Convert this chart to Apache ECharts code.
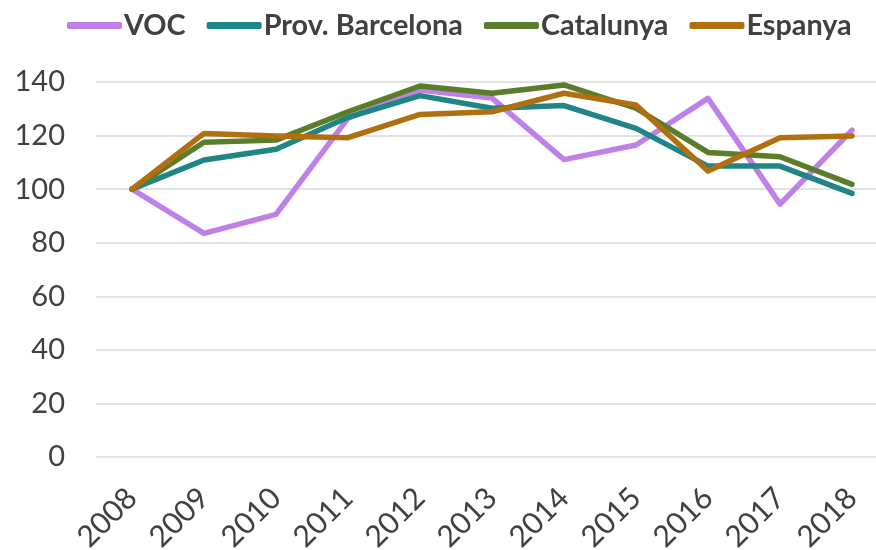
<!DOCTYPE html>
<html>
<head>
<meta charset="utf-8">
<script src="https://cdn.jsdelivr.net/npm/echarts@6/dist/echarts.min.js"></script>
<style>
  html, body { margin: 0; padding: 0; background: #fff; }
  #chart { width: 876px; height: 550px; }
</style>
</head>
<body>
<div id="chart"></div>
<script>
const years = ['2008', '2009', '2010', '2011', '2012', '2013', '2014', '2015', '2016', '2017', '2018'];
const voc = [100, 83.5, 90.6, 126.5, 137, 134, 111, 116.5, 133.9, 94.4, 122];
const provBarcelona = [100, 110.9, 114.9, 126.8, 134.9, 130.2, 131.2, 122.7, 108.6, 108.6, 98.4];
const catalunya = [100, 117.5, 118.3, 128.9, 138.5, 135.8, 138.9, 130.2, 113.7, 112.1, 101.8];
const espanya = [100, 120.8, 119.8, 119.2, 127.9, 128.9, 135.8, 131.4, 106.8, 119.2, 119.8];

const font = 'Lato, "Open Sans", sans-serif';

const myChart = echarts.init(document.querySelector('#chart'));

const mkSeries = function(name, data, color) {
  return {
    name: name,
    type: 'line',
    data: data,
    symbol: 'none',
    lineStyle: { width: 5.5, color: color, cap: 'round', join: 'round' },
    itemStyle: { color: color }
  };
};

const option = {
  animation: false,
  legend: {
    top: 6,
    left: 62,
    itemWidth: 55,
    itemHeight: 7,
    itemGap: 21,
    icon: 'roundRect',
    textStyle: { fontFamily: font, fontSize: 28.8, fontWeight: 'bold', color: '#404040', padding: [0, 0, 0, -3] },
    data: ['VOC', 'Prov. Barcelona', 'Catalunya', 'Espanya']
  },
  grid: {
    left: 96,
    right: -12,
    top: 82,
    bottom: 93,
    outerBoundsMode: 'none',
    containLabel: false
  },
  xAxis: {
    type: 'category',
    data: years,
    boundaryGap: true,
    axisLine: { show: false },
    axisTick: { show: false },
    axisLabel: {
      rotate: 45,
      margin: 36,
      fontFamily: font,
      fontSize: 30,
      color: '#404040',
      interval: 0
    }
  },
  yAxis: {
    type: 'value',
    min: 0,
    max: 140,
    interval: 20,
    axisLabel: {
      fontFamily: font,
      fontSize: 29,
      color: '#404040',
      margin: 31
    },
    splitLine: { lineStyle: { color: '#d9d9d9', width: 1.5 } }
  },
  series: [
    mkSeries('VOC', voc, '#bf80e8'),
    mkSeries('Prov. Barcelona', provBarcelona, '#1f8585'),
    mkSeries('Catalunya', catalunya, '#5b7d2a'),
    mkSeries('Espanya', espanya, '#b0700f')
  ]
};

myChart.setOption(option);
</script>
</body>
</html>
